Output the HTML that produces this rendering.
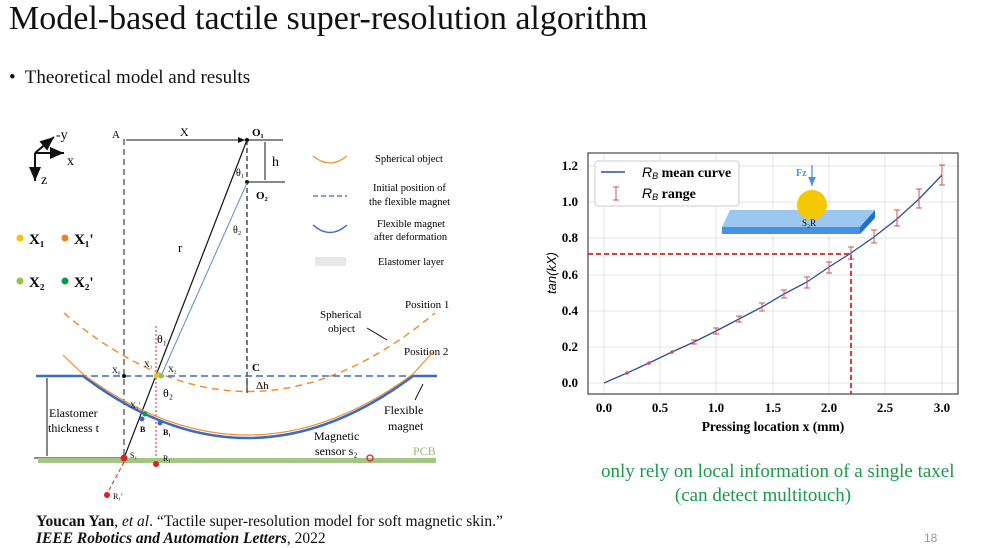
<!DOCTYPE html>
<html><head><meta charset="utf-8"><style>
body{margin:0;width:987px;height:547px;background:#fff;overflow:hidden;position:relative;font-family:"Liberation Serif",serif}
.t{position:absolute;white-space:nowrap}
</style></head><body>
<div class="t" style="left:9px;top:0px;font-size:34px;color:#111">Model-based tactile super-resolution algorithm</div>
<div class="t" style="left:9px;top:67px;font-size:19px;color:#111">•&nbsp; Theoretical model and results</div>
<div class="t" style="left:601px;top:461px;font-size:19px;color:#1a9a4a">only rely on local information of a single taxel</div>
<div class="t" style="left:613px;top:485px;font-size:19px;color:#1a9a4a;width:300px;text-align:center">(can detect multitouch)</div>
<div class="t" style="left:36px;top:513px;font-size:15.5px;color:#111"><b>Youcan Yan</b>, <i>et al</i>. “Tactile super-resolution model for soft magnetic skin.”</div>
<div class="t" style="left:36px;top:530px;font-size:15.5px;color:#111"><b><i>IEEE Robotics and Automation Letters</i></b>, 2022</div>
<div class="t" style="left:924px;top:531px;font-size:12px;color:#999;font-family:'Liberation Sans',sans-serif">18</div>

<svg width="987" height="547" style="position:absolute;left:0;top:0" font-family="Liberation Serif, serif">
<defs><marker id="ah" markerWidth="8" markerHeight="8" refX="7" refY="4" orient="auto"><path d="M0,1 L7,4 L0,7Z" fill="#111"/></marker>
<marker id="bh" markerWidth="8" markerHeight="8" refX="7" refY="4" orient="auto"><path d="M0,1 L7,4 L0,7Z" fill="#4a90e2"/></marker></defs>
<line x1="35" y1="153" x2="54" y2="137" stroke="#111" stroke-width="2" marker-end="url(#ah)"/>
<line x1="35" y1="153" x2="64" y2="153" stroke="#111" stroke-width="2" marker-end="url(#ah)"/>
<line x1="35" y1="153" x2="35" y2="181" stroke="#111" stroke-width="2" marker-end="url(#ah)"/>
<text x="56" y="139" font-size="14">-y</text><text x="67" y="165" font-size="14">x</text><text x="41" y="184" font-size="14">z</text>
<circle cx="20" cy="238" r="3.5" fill="#f5c400"/><text x="29" y="244" font-size="15" font-weight="bold">X₁</text>
<circle cx="65" cy="238" r="3.5" fill="#f08030"/><text x="74" y="244" font-size="15" font-weight="bold">X₁'</text>
<circle cx="20" cy="281" r="3.5" fill="#8cc63f"/><text x="29" y="287" font-size="15" font-weight="bold">X₂</text>
<circle cx="65" cy="281" r="3.5" fill="#0a9a4a"/><text x="74" y="287" font-size="15" font-weight="bold">X₂'</text>
<text x="112" y="138" font-size="11">A</text>
<line x1="124" y1="139" x2="124" y2="462" stroke="#666" stroke-width="1.5" stroke-dasharray="6,4"/>
<line x1="126" y1="140" x2="245" y2="140" stroke="#111" stroke-width="1" marker-end="url(#ah)"/>
<text x="180" y="136" font-size="12">X</text>
<line x1="247" y1="140" x2="283" y2="140" stroke="#111"/><line x1="249" y1="182" x2="285" y2="182" stroke="#111"/>
<line x1="265" y1="142" x2="265" y2="180" stroke="#111"/>
<text x="272" y="166" font-size="14">h</text>
<text x="252" y="136" font-size="11" font-weight="bold">O₁</text><text x="256" y="199" font-size="11" font-weight="bold">O₂</text>
<circle cx="247" cy="140" r="2" fill="#111"/><circle cx="247" cy="182" r="2" fill="#111"/>
<line x1="247" y1="140" x2="247" y2="395" stroke="#222" stroke-width="1.2" stroke-dasharray="5,3"/>
<line x1="247" y1="140" x2="124" y2="458" stroke="#111" stroke-width="1.2"/>
<line x1="247" y1="183" x2="161" y2="376" stroke="#5b8fd0" stroke-width="1"/>
<text x="236" y="176" font-size="10">θ₁</text><text x="233" y="233" font-size="10">θ₂</text>
<text x="178" y="252" font-size="13">r</text>
<line x1="156" y1="326" x2="156" y2="462" stroke="#e02020" stroke-dasharray="2,2"/>
<text x="157" y="343" font-size="12">θ₁</text><text x="163" y="397" font-size="12">θ₂</text>
<text x="252" y="371" font-size="11" font-weight="bold">C</text>
<line x1="247" y1="378" x2="247" y2="392" stroke="#111"/><text x="256" y="389" font-size="11">Δh</text>
<path d="M64,313 Q247,470 435,313" fill="none" stroke="#f0902c" stroke-width="1.5" stroke-dasharray="7,5"/>
<text x="405" y="308" font-size="11">Position 1</text><text x="404" y="355" font-size="11">Position 2</text>
<text x="320" y="318" font-size="11">Spherical</text><text x="328" y="332" font-size="11">object</text>
<line x1="367" y1="328" x2="387" y2="340" stroke="#111"/>
<line x1="36" y1="376" x2="437" y2="376" stroke="#3a6ac8" stroke-width="1.5" stroke-dasharray="7,4"/>
<path d="M36,376 L83,376 Q247,500 413,376 L437,376" fill="none" stroke="#3a6ac8" stroke-width="2.5"/>
<path d="M63,355 L83,374 Q247,496 413,374 L433,352" fill="none" stroke="#f0902c" stroke-width="1.2"/>
<text x="112" y="373" font-size="8">X₀</text><circle cx="124" cy="376" r="2" fill="#111"/>
<text x="144" y="367" font-size="8">X₁</text><text x="168" y="372" font-size="8">X₂</text>
<circle cx="156" cy="376" r="2.5" fill="#f5c400"/><circle cx="161" cy="376" r="2.5" fill="#8cc63f"/>
<text x="130" y="408" font-size="8">X₁'</text><circle cx="145" cy="414" r="2.5" fill="#0a9a4a"/>
<circle cx="142" cy="419" r="2.5" fill="#3a6ac8"/><circle cx="160" cy="423" r="2.5" fill="#3a6ac8"/>
<text x="140" y="432" font-size="8" font-weight="bold">B</text><text x="163" y="435" font-size="8" font-weight="bold">B₁</text>
<text x="384" y="414" font-size="12">Flexible</text><text x="388" y="430" font-size="12">magnet</text>
<line x1="415" y1="400" x2="423" y2="384" stroke="#111"/>
<text x="314" y="440" font-size="12">Magnetic</text><text x="315" y="455" font-size="12">sensor s₂</text>
<line x1="47" y1="378" x2="47" y2="456" stroke="#111"/>
<text x="49" y="417" font-size="12">Elastomer</text><text x="48" y="432" font-size="12">thickness t</text>
<line x1="34" y1="458" x2="124" y2="458" stroke="#111"/>
<rect x="38" y="458" width="398" height="5" fill="#a3c585"/>
<text x="413" y="455" font-size="12" fill="#8fbf6f">PCB</text>
<circle cx="124" cy="458" r="3.5" fill="#e02020"/><text x="130" y="458" font-size="8">S₁</text>
<circle cx="156" cy="464" r="3" fill="#e02020"/><text x="163" y="461" font-size="8">R₁</text>
<circle cx="370" cy="458" r="3" fill="none" stroke="#e02020" stroke-width="1.3"/>
<line x1="124" y1="462" x2="107" y2="494" stroke="#e02020" stroke-dasharray="4,3"/>
<circle cx="107" cy="495" r="3" fill="#e02020"/><text x="113" y="499" font-size="8">R₁'</text>
<path d="M313,156 Q330,170 347,156" fill="none" stroke="#f0902c" stroke-width="1.3"/>
<text x="375" y="162" font-size="10.5">Spherical object</text>
<line x1="313" y1="196" x2="347" y2="196" stroke="#3a6ac8" stroke-width="1.3" stroke-dasharray="5,3"/>
<text x="373" y="191" font-size="10.5">Initial position of</text><text x="369" y="205" font-size="10.5">the flexible magnet</text>
<path d="M313,225 Q330,240 347,225" fill="none" stroke="#3a6ac8" stroke-width="1.5"/>
<text x="377" y="227" font-size="10.5">Flexible magnet</text><text x="374" y="240" font-size="10.5">after deformation</text>
<rect x="315" y="257" width="31" height="9" fill="#e8e8e8"/>
<text x="378" y="265" font-size="10.5">Elastomer layer</text>

<g font-family="Liberation Serif, serif">
<g stroke="#dedede" stroke-width="0.8">
<line x1="604" y1="153" x2="604" y2="394"/><line x1="660" y1="153" x2="660" y2="394"/><line x1="716" y1="153" x2="716" y2="394"/><line x1="773" y1="153" x2="773" y2="394"/><line x1="829" y1="153" x2="829" y2="394"/><line x1="885" y1="153" x2="885" y2="394"/><line x1="942" y1="153" x2="942" y2="394"/>
<line x1="588" y1="383" x2="958" y2="383"/><line x1="588" y1="347" x2="958" y2="347"/><line x1="588" y1="311" x2="958" y2="311"/><line x1="588" y1="275" x2="958" y2="275"/><line x1="588" y1="238" x2="958" y2="238"/><line x1="588" y1="202" x2="958" y2="202"/><line x1="588" y1="166" x2="958" y2="166"/>
</g>
<rect x="588" y="153" width="370" height="241" fill="none" stroke="#222" stroke-width="1"/>
<g font-size="13" font-weight="bold" text-anchor="end">
<text x="578" y="387">0.0</text><text x="578" y="351">0.2</text><text x="578" y="315">0.4</text><text x="578" y="279">0.6</text><text x="578" y="242">0.8</text><text x="578" y="206">1.0</text><text x="578" y="170">1.2</text></g>
<g font-size="13" font-weight="bold" text-anchor="middle">
<text x="604" y="412">0.0</text><text x="660" y="412">0.5</text><text x="716" y="412">1.0</text><text x="773" y="412">1.5</text><text x="829" y="412">2.0</text><text x="885" y="412">2.5</text><text x="942" y="412">3.0</text></g>
<text x="773" y="431" font-size="13.5" font-weight="bold" text-anchor="middle">Pressing location x (mm)</text>
<text transform="translate(556,273) rotate(-90)" font-size="13" font-style="italic" font-family="Liberation Sans, sans-serif" text-anchor="middle">tan(kX)</text>
<path d="M588,254 L851,254 L851,394" fill="none" stroke="#e02020" stroke-width="1.8" stroke-dasharray="5,3"/>
<polyline fill="none" stroke="#2d4f9a" stroke-width="1.3" points="604,383 627,373 649,363 672,352 694,342 716,331 739,319 762,307 784,294 807,282 829,267 851,253 874,237 897,219 919,199 942,175"/>
<g stroke="#d05050" stroke-width="1" fill="#d05050">
<circle cx="627" cy="373" r="1.3"/><circle cx="649" cy="363" r="1.3"/><circle cx="672" cy="352" r="1.3"/>
<path d="M694,340V344M691,340H697M691,344H697"/><path d="M716,328V334M713,328H719M713,334H719"/>
<path d="M739,316V322M736,316H742M736,322H742"/><path d="M762,303V311M759,303H765M759,311H765"/>
<path d="M784,290V298M781,290H787M781,298H787"/><path d="M807,277V288M804,277H810M804,288H810"/>
<path d="M829,262V273M826,262H832M826,273H832"/><path d="M851,247V259M848,247H854M848,259H854"/>
<path d="M874,230V243M871,230H877M871,243H877"/><path d="M897,210V226M894,210H900M894,226H900"/>
<path d="M919,189V208M916,189H922M916,208H922"/><path d="M942,165V185M939,165H945M939,185H945"/>
</g>
<rect x="595" y="161" width="144" height="45" fill="#fff" stroke="#ccc" rx="3"/>
<line x1="601" y1="172" x2="625" y2="172" stroke="#2d4f9a" stroke-width="1.5"/>
<text x="642" y="177" font-size="14"><tspan font-style="italic" font-family="Liberation Sans, sans-serif">R</tspan><tspan font-size="9" dy="2" font-style="italic" font-family="Liberation Sans, sans-serif">B</tspan><tspan dy="-2" font-weight="bold"> mean curve</tspan></text>
<path d="M616,187V200M613,187H619M613,200H619" stroke="#d05050"/>
<text x="642" y="198" font-size="14"><tspan font-style="italic" font-family="Liberation Sans, sans-serif">R</tspan><tspan font-size="9" dy="2" font-style="italic" font-family="Liberation Sans, sans-serif">B</tspan><tspan dy="-2" font-weight="bold"> range</tspan></text>
<polygon points="730,210 875,210 860,227 722,227" fill="#9cc8f0"/>
<polygon points="722,227 860,227 860,234 722,234" fill="#4a90e2"/>
<polygon points="860,227 875,210 875,218 860,234" fill="#1f6fcf"/>
<circle cx="812" cy="205" r="15" fill="#f5c800"/>
<line x1="812" y1="165" x2="812" y2="186" stroke="#4a90e2" stroke-width="1.3" marker-end="url(#bh)"/>
<text x="796" y="176" font-size="10" fill="#4a90e2" font-weight="bold">Fz</text>
<text x="802" y="226" font-size="9">S₂R</text>
</g>
</svg>
</body></html>
